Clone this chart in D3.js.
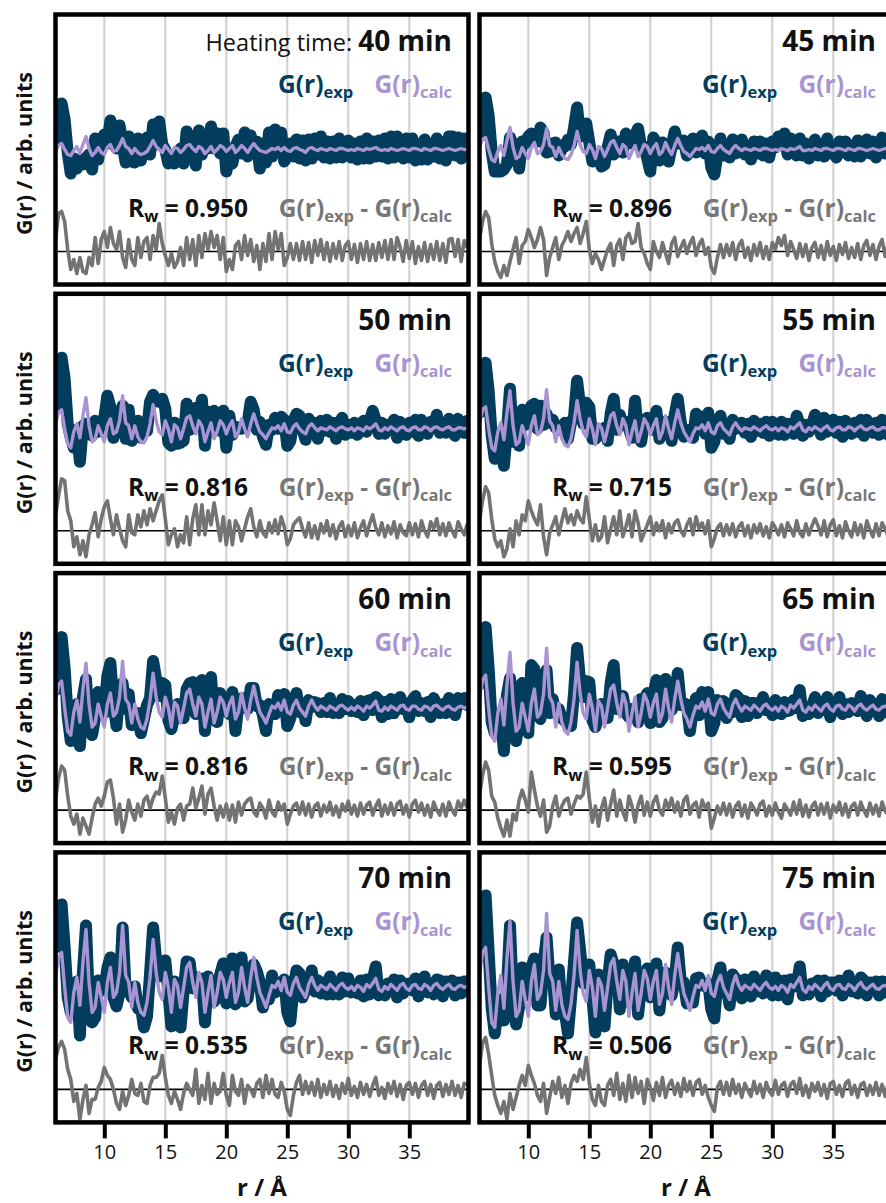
<!DOCTYPE html>
<html>
<head>
<meta charset="utf-8">
<script src="https://cdn.jsdelivr.net/npm/d3@7"></script>
<style>
  body { margin: 0; background: #fff; }
  svg { display: block; }
  text { font-family: "Open Sans", "Noto Sans", sans-serif; }
</style>
</head>
<body>
<div id="chart"></div>
<script>
// ---- data -------------------------------------------------------------
const heatingTimes = ["40 min", "45 min", "50 min", "55 min", "60 min", "65 min", "70 min", "75 min"];
const rwValues = ["0.950", "0.896", "0.816", "0.715", "0.816", "0.595", "0.535", "0.506"];
const xTicks = [10, 15, 20, 25, 30, 35];

// r grid shared by all refinements (Å)
const rStart = 6.0, rStep = 0.25, nPoints = 136;

// calculated PDF, G(r)calc, arb. units
const calc40 = [-2,4,6,0,-5,-6,-1,3,-4,5, 13,1,-6,-3,2,-3,-5,2,5,-2, -1,4,11,3,1,-4,1,-3,-5,-4, -2,3,9,3,0,-3,4,0,-4,2, 1,-3,0,4,5,1,-2,3,1,-4, -1,3,-3,0,4,2,-2,1,4,-3, 0,4,1,-3,2,6,2,-1,-2,-3, -1,1,0,2,-1,2,-1,-2,1,2, 0,-1,-3,1,2,0,-1,1,0,-1, 1,0,-1,1,1,0,-1,0,-1,1, 0,-1,1,0,1,2,0,-1,0,-1, 1,0,-1,0,1,0,-1,1,1,0, -1,1,0,-1,1,1,0,-1,0,1, 0,-1,0,1,0,0];
const calc45 = [3,10,12,0,-10,-12,-2,4,-6,9, 22,2,-9,-7,2,-4,-9,2,7,-4, -2,5,21,4,2,-7,2,-5,-9,-10, -5,4,18,5,-2,-4,5,0,-9,3, 1,-7,0,7,9,2,-4,5,2,-9, -2,4,-7,-2,5,3,-4,2,6,-5, -2,7,0,-5,4,11,4,-2,-4,-7, -3,1,0,2,-1,4,-2,-3,1,4, 0,-2,-4,1,4,1,-1,1,0,-1, 1,0,-1,1,1,0,-1,0,-1,1, 0,-1,1,0,1,3,-1,-1,0,-1, 1,0,-1,1,1,0,-1,1,1,0, -1,1,0,-1,1,1,0,-1,0,1, 0,-1,0,1,0,0];
const calc50 = [5,16,19,0,-15,-19,-3,5,-9,13, 31,3,-13,-10,3,-5,-13,3,10,-5, -3,8,33,6,3,-10,3,-8,-13,-14, -8,5,24,8,-3,-6,8,0,-13,4, 1,-10,0,11,13,3,-5,8,3,-13, -3,6,-10,-3,8,4,-5,3,8,-8, -3,10,0,-8,5,15,5,-3,-6,-10, -4,1,0,3,-2,5,-3,-4,2,5, 0,-3,-5,2,5,1,-2,1,0,-1, 2,0,-2,1,2,0,-1,1,-2,1, 0,-2,2,0,2,5,-1,-2,1,-1, 2,0,-2,1,2,-1,-2,1,2,-1, -1,2,1,-2,1,2,0,-1,1,2, -1,-1,1,1,0,1];
const calc55 = [6,19,22,0,-19,-22,-3,6,-11,16, 38,3,-16,-13,3,-6,-16,3,13,-6, -3,10,39,8,3,-13,3,-10,-16,-18, -10,6,28,10,-3,-8,10,0,-16,5, 1,-13,0,13,16,3,-6,10,3,-16, -3,8,-13,-3,10,5,-6,3,10,-10, -3,13,0,-10,6,19,6,-3,-8,-13, -5,1,0,4,-2,6,-3,-5,3,6, 0,-3,-6,2,6,1,-2,1,0,-1, 2,0,-2,1,3,0,-1,1,-2,1, 0,-3,2,0,3,6,-1,-3,1,-1, 2,0,-2,1,3,-1,-2,1,2,-1, -1,2,1,-2,1,3,0,-1,1,2, -1,-1,1,1,0,1];
const calc60 = [8,23,27,0,-23,-27,-4,8,-14,19, 45,4,-19,-15,4,-8,-19,4,15,-8, -4,11,47,9,4,-15,4,-11,-19,-21, -11,8,35,11,-4,-9,11,0,-19,6, 2,-15,0,15,19,4,-8,11,4,-19, -4,9,-15,-4,11,6,-8,4,11,-11, -4,15,0,-11,8,22,8,-4,-9,-15, -6,2,0,5,-2,8,-4,-6,3,8, 0,-4,-8,2,8,2,-2,2,0,-2, 2,0,-2,2,3,0,-2,1,-2,2, 0,-3,2,0,3,7,-2,-3,1,-2, 2,0,-2,2,3,-1,-2,2,2,-1, -2,2,1,-2,2,3,0,-2,1,2, -1,-2,1,2,0,1];
const calc65 = [9,28,33,0,-28,-33,-5,9,-17,23, 56,5,-23,-19,5,-9,-23,5,19,-9, -5,14,60,11,5,-19,5,-14,-23,-26, -14,9,46,14,-5,-11,14,0,-23,7, 2,-19,0,19,23,5,-9,14,5,-23, -5,11,-19,-5,14,7,-9,5,14,-14, -5,19,0,-14,9,27,9,-5,-11,-19, -7,2,0,6,-3,9,-5,-7,4,9, 0,-5,-9,3,9,2,-3,2,0,-2, 3,0,-3,2,4,0,-2,1,-3,2, 0,-4,3,0,4,8,-2,-4,1,-2, 3,0,-3,2,4,-1,-3,2,3,-1, -2,3,1,-3,2,4,0,-2,1,3, -1,-2,1,2,0,1];
const calc70 = [10,30,35,0,-30,-35,-5,10,-18,25, 58,5,-25,-20,5,-10,-25,5,20,-10, -5,15,62,12,5,-20,5,-15,-25,-28, -15,10,48,15,-5,-12,15,0,-25,8, 2,-20,0,20,25,5,-10,15,5,-25, -5,12,-20,-5,15,8,-10,5,15,-15, -5,20,0,-15,10,30,10,-5,-12,-20, -8,2,0,6,-3,10,-5,-8,4,10, 0,-5,-10,3,10,2,-3,2,0,-2, 3,0,-3,2,4,0,-2,1,-3,2, 0,-4,3,0,4,9,-2,-4,1,-2, 3,0,-3,2,4,-1,-3,2,3,-1, -2,3,1,-3,2,4,0,-2,1,3, -1,-2,1,2,0,1];
const calc75 = [12,35,40,0,-35,-40,-6,12,-21,29, 66,6,-29,-23,6,-12,-29,6,23,-12, -6,17,74,14,6,-23,6,-17,-29,-32, -17,12,57,17,-6,-14,17,0,-29,9, 2,-23,0,23,29,6,-12,17,6,-29, -6,14,-23,-6,17,9,-12,6,17,-17, -6,23,0,-17,12,34,12,-6,-14,-23, -9,2,0,7,-3,12,-6,-9,5,12, 0,-6,-12,3,12,2,-3,2,0,-2, 3,0,-3,2,5,0,-2,1,-3,2, 0,-5,3,0,5,10,-2,-5,1,-2, 3,0,-3,2,5,-1,-3,2,3,-1, -2,3,1,-3,2,5,0,-2,1,3, -1,-2,1,2,0,1];

// fit residual, G(r)exp - G(r)calc, arb. units
const diff40 = [10,38,40,30,2,-18,-8,-22,-6,-20, -22,-6,-14,14,-12,12,20,4,24,8, 2,20,-6,-16,12,-8,-14,14,-6,10, 14,-8,16,2,28,8,-4,-14,-2,-16, -10,4,-14,14,-8,12,-14,16,-6,18, 2,20,4,16,-8,14,-20,-8,-18,6, 10,-8,16,-4,12,-10,6,-18,8,-10, 18,-8,20,2,18,-14,-6,8,-8,8, -9,10,-8,9,-11,11,-4,12,-8,9, -10,8,-7,10,-9,6,10,-8,7,-11, 8,-8,10,-9,7,-9,9,-6,11,-8, 12,-8,14,4,-10,11,-7,10,-12,5, -9,9,-10,7,-8,10,-9,8,-11,12, 13,-5,12,-10,11,4];
const diff45 = [12,30,40,34,8,-10,-20,-26,-14,-24, -10,2,14,-12,6,10,22,14,4,12, 24,12,-24,-6,4,14,-8,6,12,20, 10,18,24,8,18,30,2,-12,-2,-8, -18,-8,2,8,-14,6,12,-8,14,18, 8,10,28,4,-2,-12,-18,10,0,-6, 9,-2,-12,8,14,-5,4,11,-2,8, 14,-4,7,12,-3,4,-16,-22,-6,7, -6,7,-4,9,-8,6,11,-6,4,-9, 7,-4,9,-7,5,-8,9,2,14,6, 16,-4,10,2,-7,8,-5,7,-9,4, 9,-6,6,-8,10,-4,5,-9,7,-3, 9,-7,4,-6,8,-8,6,11,-4,7, -8,5,12,-5,8,3];
const diff50 = [15,35,52,50,20,10,-16,-6,-24,-10, -26,-4,6,18,-6,12,24,30,12,-4, 16,2,-10,-16,16,-2,-4,16,4,20, 6,22,10,20,30,36,12,-14,-4,2, -16,-4,-12,14,-14,12,26,-4,26,-4, 20,6,28,10,-10,14,-14,10,-14,10, 4,-10,2,14,22,4,-6,10,-2,-6, 8,-2,11,-3,14,4,-14,-8,6,10, 13,2,-6,8,-7,5,-8,7,-2,10, -5,6,-8,4,9,-6,5,-5,8,-7, 3,10,-5,7,16,3,-4,8,-6,5, -3,9,-7,6,-2,-5,8,-4,7,-6, 10,0,-6,9,2,12,-4,7,-5,8, 0,-6,9,2,-4,7];
const diff55 = [10,30,44,38,12,-8,-16,-10,-26,-18, 2,-16,10,-4,16,10,30,20,12,6, 26,-6,-24,-2,6,14,-4,10,22,8, 16,6,20,12,8,34,12,-10,6,-10, -6,14,-12,2,14,-4,20,-6,4,16, -6,20,8,-10,-2,6,14,-4,8,0, 10,-7,7,-2,8,11,0,-5,6,12, -4,14,2,8,-3,10,-16,-8,3,7, -5,6,-4,7,-6,4,8,-5,5,-7, 6,-2,7,-5,4,-7,8,3,-4,6, -6,8,2,-5,10,-2,-6,7,-4,5, 12,5,-4,10,-6,6,11,-5,5,-7, 9,0,-6,8,-4,6,-7,10,1,-6, 7,-5,8,2,-6,5];
const diff60 = [10,32,44,40,14,-6,-14,-4,-24,-8, -16,-24,-8,6,12,4,14,28,30,12, -14,6,-22,-10,10,-2,-10,6,-6,10, 14,2,12,18,16,34,12,-12,-2,-14, 2,6,-10,4,6,22,2,12,24,-4, 16,22,4,-10,4,-7,6,-10,5,-12, 8,-5,6,10,12,-2,-6,7,2,-8, 10,-2,-6,8,0,6,-14,-4,4,7, -4,8,-5,6,-7,4,7,-6,5,-2, 8,-5,4,-7,6,-1,9,-4,5,-6, 7,-4,5,8,-5,4,10,-6,5,-4, 7,-5,6,9,-4,5,-7,6,10,-2, 7,-5,5,-7,8,0,-5,6,-6,8, 0,-5,9,2,10,2];
const diff65 = [15,35,48,40,14,8,-8,-18,-26,-10, -26,-4,-10,10,20,10,-2,38,20,4, -6,10,-22,-16,4,14,-6,4,10,12, -4,6,14,12,16,38,12,-12,4,-16, 2,12,-10,6,20,-6,10,-2,-10,14, 4,-12,5,14,-5,8,-6,8,14,0, -5,10,2,12,-2,8,-6,10,14,-4, 5,8,-7,10,2,7,-18,-8,4,-4, 7,-5,6,-7,4,8,-6,5,-8,7, 2,-5,6,9,-6,4,-5,7,-2,-8, 6,1,-5,8,-4,10,-6,5,-7,4, 8,-5,6,-4,7,-8,5,-2,8,-5, 6,-7,4,7,-5,8,0,-6,7,-4, 5,-6,8,-1,-5,6];
const diff70 = [30,42,48,40,20,10,-12,-4,-30,-10, 4,-24,-10,-10,2,8,22,14,10,0, -14,-20,-2,-16,-6,10,-4,-6,6,-12, -14,4,12,12,16,34,12,-6,-14,-2, -10,-20,-4,6,0,-6,20,-14,4,-10, 16,-14,6,-5,-2,16,-6,-16,14,-2, -6,10,-14,4,0,-7,6,10,-8,14, -4,10,-5,-8,7,-2,-20,-26,-6,7, 14,-5,8,-4,7,-6,10,-8,5,-5, 8,-7,4,-9,6,-4,11,-6,3,-8, 7,-5,5,-7,4,12,-6,2,-9,6, -4,8,-7,5,-10,4,7,-5,6,-8, 4,8,-6,5,-9,4,7,-7,5,-5, 8,-6,4,-8,6,5];
const diff75 = [25,46,52,35,14,-6,-16,-24,-12,-30, -4,-20,-8,4,14,4,24,14,6,-6, -12,6,-24,-8,8,-4,12,-8,4,-14, 6,14,8,20,10,32,6,-10,-16,4, -12,-16,4,10,-6,16,-10,6,-12,14, -8,12,-4,8,-14,10,2,-11,7,-6, 12,-8,4,9,-5,6,-7,11,-2,8, -6,7,10,-5,4,-8,-16,-22,2,8, -5,7,-6,10,-4,5,-8,6,-1,-7, 8,-4,5,-8,7,-2,-6,9,-5,4, 7,-7,5,8,-4,11,-6,4,-8,6, -2,7,-6,5,-9,6,8,-5,4,-7, 6,9,-5,4,-8,5,7,-6,4,-5, 7,-6,5,-7,6,3];

const calcSeries = [calc40, calc45, calc50, calc55, calc60, calc65, calc70, calc75];
const diffSeries = [diff40, diff45, diff50, diff55, diff60, diff65, diff70, diff75];

// ---- layout -----------------------------------------------------------
const W = 886, H = 1203;
const colX = [55.5, 479.5];
const rowY = [14.5, 293.8, 573.1, 852.4];
const panelW = 413, panelH = 270;
const diffOffset = -102;          // residual curve is drawn below the fit

const C = {
  exp: "#023d5e",
  calc: "#a893d3",
  diff: "#737373",
  grid: "#cfcfcf"
};

const r = d3.range(nPoints).map(i => rStart + i * rStep);

const x = d3.scaleLinear().domain([6, 6 + panelW / 12.2]).range([0, panelW]);
const y = d3.scaleLinear().domain([-135, 135]).range([panelH, 0]);

const svg = d3.select("#chart").append("svg")
  .attr("width", W).attr("height", H)
  .attr("viewBox", `0 0 ${W} ${H}`);

svg.append("defs").append("clipPath").attr("id", "plotClip")
  .append("rect").attr("x", 0).attr("y", 0).attr("width", panelW).attr("height", panelH);

const line = d3.line().x((d, i) => x(r[i])).y(d => y(d));

const FS = 24.5, SUB = 16.5, SHIFT = 5.5;

heatingTimes.forEach((label, k) => {
  const col = k % 2, row = Math.floor(k / 2);
  const calc = calcSeries[k];
  const diff = diffSeries[k];
  const exp = calc.map((v, i) => v + diff[i]);

  const g = svg.append("g").attr("transform", `translate(${colX[col]},${rowY[row]})`);
  const plot = g.append("g").attr("clip-path", "url(#plotClip)");

  plot.selectAll("line.grid").data(xTicks).join("line")
    .attr("class", "grid")
    .attr("x1", d => x(d)).attr("x2", d => x(d))
    .attr("y1", 0).attr("y2", panelH)
    .attr("stroke", C.grid).attr("stroke-width", 2);

  plot.append("path").datum(exp)
    .attr("d", line).attr("fill", "none")
    .attr("stroke", C.exp).attr("stroke-width", 12)
    .attr("stroke-linejoin", "round").attr("stroke-linecap", "round");

  plot.append("path").datum(calc)
    .attr("d", line).attr("fill", "none")
    .attr("stroke", C.calc).attr("stroke-width", 3.4)
    .attr("stroke-linejoin", "round");

  plot.append("line")
    .attr("x1", 0).attr("x2", panelW)
    .attr("y1", y(diffOffset)).attr("y2", y(diffOffset))
    .attr("stroke", "#000").attr("stroke-width", 1.6);

  plot.append("path").datum(diff.map(v => v + diffOffset))
    .attr("d", line).attr("fill", "none")
    .attr("stroke", C.diff).attr("stroke-width", 3.6)
    .attr("stroke-linejoin", "round");

  // heading
  const head = g.append("text")
    .attr("x", 396.5).attr("y", 36)
    .attr("text-anchor", "end").attr("fill", "#111");
  if (k === 0) head.append("tspan").attr("font-size", 23.5).attr("font-weight", 400).text("Heating time: ");
  head.append("tspan").attr("font-size", 28).attr("font-weight", 700).text(label);

  // legend: experiment and fit
  const legExp = g.append("text").attr("x", 222.5).attr("y", 78)
    .attr("font-size", FS).attr("font-weight", 700).attr("fill", C.exp);
  legExp.append("tspan").text("G(r)");
  legExp.append("tspan").attr("font-size", SUB).attr("dy", SHIFT).text("exp");

  const legCalc = g.append("text").attr("x", 396.5).attr("y", 78)
    .attr("text-anchor", "end")
    .attr("font-size", FS).attr("font-weight", 700).attr("fill", C.calc);
  legCalc.append("tspan").text("G(r)");
  legCalc.append("tspan").attr("font-size", SUB).attr("dy", SHIFT).text("calc");

  // goodness of fit
  const rw = g.append("text").attr("x", 72.5).attr("y", 202)
    .attr("font-size", FS).attr("font-weight", 700).attr("fill", "#111");
  rw.append("tspan").text("R");
  rw.append("tspan").attr("font-size", SUB).attr("dy", SHIFT).text("w");
  rw.append("tspan").attr("dy", -SHIFT).text(" = " + rwValues[k]);

  const legDiff = g.append("text").attr("x", 396.5).attr("y", 202)
    .attr("text-anchor", "end")
    .attr("font-size", FS).attr("font-weight", 700).attr("fill", "#777");
  legDiff.append("tspan").text("G(r)");
  legDiff.append("tspan").attr("font-size", SUB).attr("dy", SHIFT).text("exp");
  legDiff.append("tspan").attr("dy", -SHIFT).text(" - G(r)");
  legDiff.append("tspan").attr("font-size", SUB).attr("dy", SHIFT).text("calc");

  g.append("rect")
    .attr("x", 0).attr("y", 0).attr("width", panelW).attr("height", panelH)
    .attr("fill", "none").attr("stroke", "#000").attr("stroke-width", 4.5);

  if (col === 0) {
    svg.append("text")
      .attr("transform", `translate(24,${rowY[row] + panelH / 2 + 4}) rotate(-90)`)
      .attr("text-anchor", "middle").attr("dy", "0.35em")
      .attr("font-size", 21.5).attr("font-weight", 700).attr("fill", "#111")
      .text("G(r) / arb. units");
  }

  if (row === 3) {
    const axis = g.append("g")
      .attr("transform", `translate(0,${panelH})`)
      .call(d3.axisBottom(x).tickValues(xTicks).tickSize(16).tickPadding(6).tickFormat(d3.format("d")));
    axis.select(".domain").remove();
    axis.selectAll(".tick line").attr("stroke", "#000").attr("stroke-width", 4);
    axis.selectAll(".tick text")
      .attr("font-family", "'Liberation Sans Narrow', 'Open Sans', sans-serif")
      .attr("font-size", 20).attr("fill", "#111");

    g.append("text")
      .attr("x", panelW / 2).attr("y", panelH + 74)
      .attr("text-anchor", "middle").attr("font-size", 24).attr("font-weight", 700)
      .attr("fill", "#111").text("r / Å");
  }
});
</script>
</body>
</html>
